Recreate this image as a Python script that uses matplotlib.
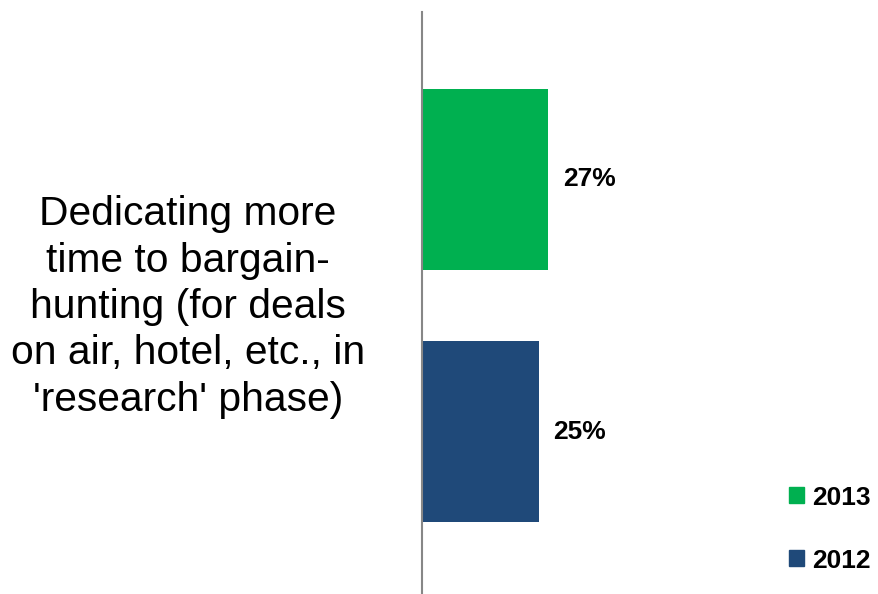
import matplotlib.pyplot as plt
from matplotlib.patches import Patch

plt.rcParams['font.family'] = ['Liberation Sans', 'DejaVu Sans']

category = "Dedicating more\ntime to bargain-\nhunting (for deals\non air, hotel, etc., in\n'research' phase)"
years = ["2013", "2012"]
values = [27, 25]
colors = ["#00B050", "#1F4979"]
positions = [1, 0]

fig = plt.figure(figsize=(8.79, 5.94), dpi=100)
ax = fig.add_axes([422/879, 0, 280/879, 582/594])

bars = ax.barh(positions, values, height=0.717, color=colors)
for p, v in zip(positions, values):
    ax.text(v + 3.2, p, f"{v}%", va="center", ha="left",
            fontsize=19, fontweight="bold")

ax.set_xlim(0, 60)
ax.set_ylim(-0.642, 1.663)
for s in ["top", "right", "bottom"]:
    ax.spines[s].set_visible(False)
ax.spines["left"].set_color("#878787")
ax.spines["left"].set_linewidth(1.5)
ax.set_xticks([])
ax.set_yticks([])

fig.text(188/879, 1 - 307/594, category, ha="center", va="center",
         fontsize=29.3, linespacing=1.28)

handles = [Patch(color=c, label=y) for c, y in zip(colors, years)]
leg = fig.legend(handles=handles, loc="lower right",
                 bbox_to_anchor=(1.0 + 10/879, 3/594), frameon=False,
                 handlelength=0.55, handleheight=0.55, handletextpad=0.3,
                 labelspacing=1.47, borderaxespad=0.3,
                 prop={"size": 19, "weight": "bold"})

fig.savefig("out.png", dpi=100)
